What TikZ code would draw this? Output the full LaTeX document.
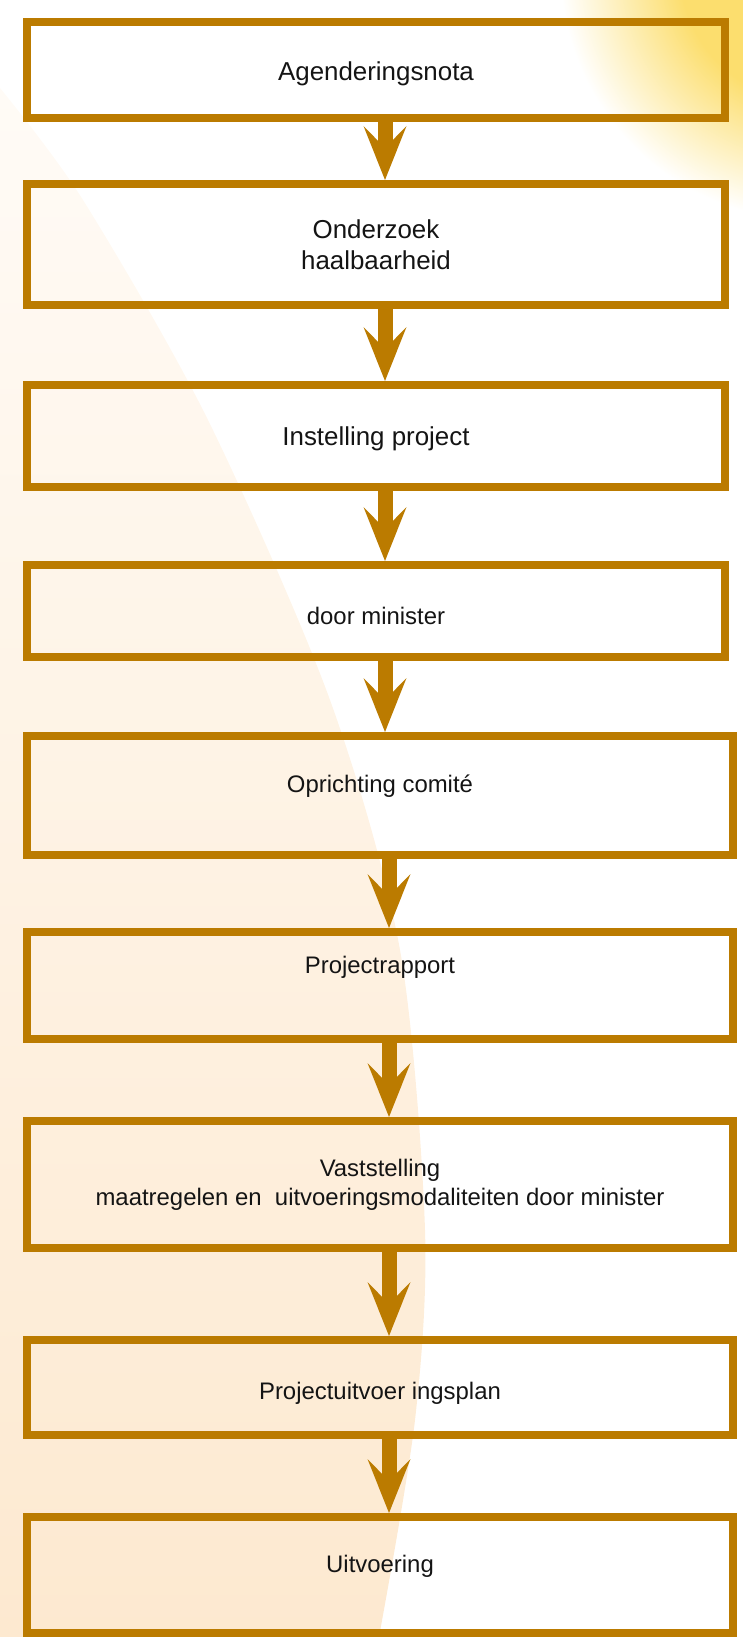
\documentclass[tikz,border=0pt]{standalone}
\usepackage{fontspec}
\setmainfont{Liberation Sans}
\usetikzlibrary{arrows.meta}

\definecolor{gold}{RGB}{187,123,0}
\definecolor{creamtop}{RGB}{255,251,246}
\definecolor{creambot}{RGB}{253,233,208}
\definecolor{sunglow}{RGB}{252,222,110}
\pgfdeclareradialshading{sunshade}{\pgfpoint{0bp}{0bp}}{color(0bp)=(sunglow); color(13bp)=(sunglow); color(25bp)=(white); color(50bp)=(white)}

\begin{document}
\begin{tikzpicture}[x=1bp,y=-1bp,
  box/.style={draw=gold,line width=8bp,minimum width=698bp,inner sep=0pt,
    align=center,text=black!92,font=\fontsize{24}{29}\selectfont},
  wide/.style={box,minimum width=706bp},
  big/.style={font=\fontsize{26}{31}\selectfont},
  lift/.style={text depth=#1},
  drop/.style={text height=#1},
  flow/.style={draw=gold,line width=15bp,
    -{Stealth[length=54bp,width=43bp,inset=22bp,line width=0pt]}}]
\useasboundingbox (0,0) rectangle (743,1637);

% Background: sun in the corner and the pale sweep on the left
\begin{scope}
\clip (0,0) rectangle (743,1637);
\shade[shading=sunshade] (810,-30) circle (250);
\shade[top color=creamtop,bottom color=creambot]
  plot[smooth] coordinates {(0,88) (83,200) (208,420) (330,700) (400,950)
    (425,1230) (415,1420) (379,1637)} -- (0,1637) -- cycle;
\end{scope}

% Steps
\node[box,big,drop=26bp,minimum height=96bp] (agenda) at (376,70) {Agenderingsnota};
\node[box,big,minimum height=121bp] (onderzoek) at (376,244.5) {Onderzoek\\haalbaarheid};
\node[box,big,drop=24bp,minimum height=102bp] (instelling) at (376,436) {Instelling project};
\node[box,drop=27bp,minimum height=92bp] (minister) at (376,611) {door minister};
\node[wide,lift=23bp,minimum height=119bp] (comite) at (380,795.5) {Oprichting comité};
\node[wide,lift=42bp,minimum height=107bp] (rapport) at (380,985.5) {Projectrapport};
\node[wide,minimum height=127bp] (vaststelling) at (380,1184.5)
  {Vaststelling\\maatregelen en~ uitvoeringsmodaliteiten door minister};
\node[wide,drop=29bp,minimum height=95bp] (plan) at (380,1387.5) {Projectuitvoer ingsplan};
\node[wide,lift=23bp,minimum height=116bp] (uitvoering) at (380,1575) {Uitvoering};

% Arrows
\foreach \a/\b in {agenda/onderzoek,onderzoek/instelling,instelling/minister,
    minister/comite,comite/rapport,rapport/vaststelling,vaststelling/plan,plan/uitvoering}
  \draw[flow] ([xshift=9bp]\a.south) -- ([xshift=9bp]\a.south |- \b.north);
\end{tikzpicture}
\end{document}
